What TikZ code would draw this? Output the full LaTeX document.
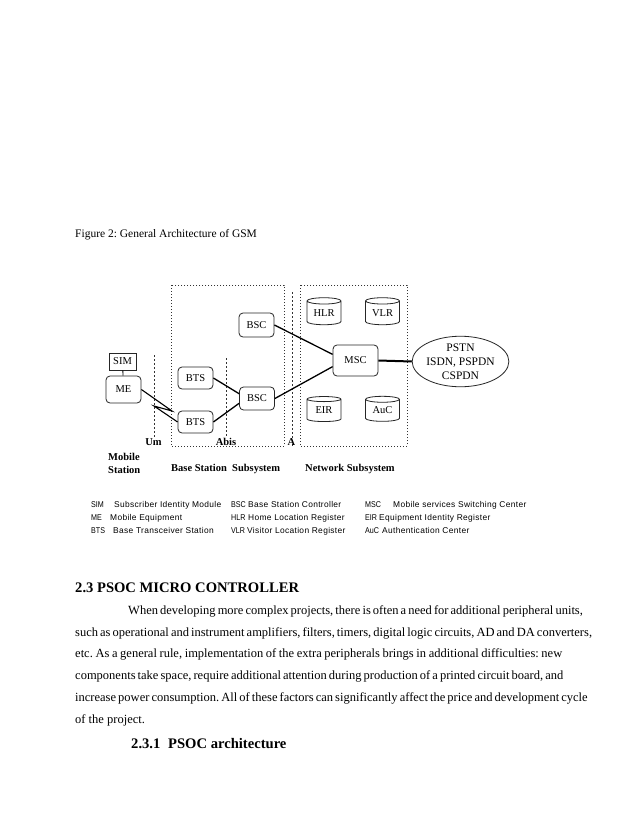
\documentclass[tikz,border=0pt]{standalone}
\usepackage{fontspec}
\setmainfont{Liberation Serif}
\newfontfamily\legendfont[LetterSpace=4]{Liberation Sans}
\newfontfamily\abbrfont[FakeStretch=0.85]{Liberation Sans}
\usetikzlibrary{shapes.geometric}
\frenchspacing
\begin{document}
\begin{tikzpicture}[x=1pt,y=-1pt,
  boxfont/.style={font=\fontsize{10.5}{12}\selectfont},
  rbox/.style={draw=black!85, rounded corners=4pt, line width=0.8pt, inner sep=0pt, boxfont},
  sbox/.style={draw=black!85, line width=0.8pt, inner sep=0pt, boxfont},
  dbase/.style={draw=black!85, cylinder, shape border rotate=90, aspect=0.3, line width=0.8pt, inner sep=0pt, boxfont, minimum width=34pt, minimum height=27pt},
  link/.style={line width=1.3pt},
  zone/.style={draw=black!80, line width=0.9pt, dash pattern=on 0.9pt off 2.1pt},
  iface/.style={draw=black!80, line width=0.9pt, dash pattern=on 2pt off 2pt},
  blabel/.style={font=\fontsize{10.5}{12}\selectfont\bfseries, inner sep=0pt},
  leg/.style={font=\legendfont\fontsize{8.4}{10}\selectfont, anchor=base west, inner sep=0pt},
  abbr/.style={font=\abbrfont\fontsize{8.4}{10}\selectfont, anchor=base west, inner sep=0pt},
  body/.style={font=\fontsize{12.5}{15}\selectfont, anchor=base west, inner sep=0pt},
  head/.style={font=\fontsize{14.6}{17}\selectfont\bfseries, anchor=base west, inner sep=0pt}
]
\useasboundingbox[fill=white] (0,0) rectangle (638,826);

% caption
\node[font=\fontsize{11.5}{13}\selectfont, anchor=base west, inner sep=0pt] (cap) at (75,237) {Figure 2: General Architecture of GSM};

% zones
\draw[zone] (171,285) rectangle (284,446);
\draw[zone] (300,285) rectangle (407,446);
\coordinate (umtop) at (154,355); \coordinate (umbot) at (154,437);
\coordinate (abtop) at (226,358); \coordinate (abbot) at (226,437);
\coordinate (atop) at (292,292); \coordinate (abot) at (292,446);
\draw[iface] (umtop) -- (umbot);
\draw[iface] (abtop) -- (abbot);
\draw[iface] (atop) -- (abot);

% nodes
\node[sbox, minimum width=27pt, minimum height=17pt] (sim) at (122.5,361.5) {SIM};
\node[rbox, minimum width=35pt, minimum height=27pt] (me) at (123.5,389.5) {ME};
\node[rbox, minimum width=35pt, minimum height=22pt] (bts1) at (195.5,378) {BTS};
\node[rbox, minimum width=35pt, minimum height=22pt] (bts2) at (195.5,422) {BTS};
\node[rbox, minimum width=35pt, minimum height=24pt] (bsc1) at (256.5,325) {BSC};
\node[rbox, minimum width=35pt, minimum height=23pt] (bsc2) at (257,398.5) {BSC};
\node[rbox, minimum width=45pt, minimum height=31pt] (msc) at (355.5,360.5) {MSC};
\node[dbase] (hlr) at (324,313) {HLR};
\node[dbase] (vlr) at (382.5,313) {VLR};
\node[dbase, minimum height=25pt] (eir) at (324,410.5) {EIR};
\node[dbase, minimum height=25pt] (auc) at (382.5,410.5) {AuC};
\node[draw=black!85, ellipse, line width=0.8pt, minimum width=85pt, minimum height=47pt, inner sep=0pt, align=center, font=\fontsize{11.5}{14}\selectfont] (net) at (460.5,361.5) {PSTN\\ISDN, PSPDN\\CSPDN};

% connectors
\draw[line width=0.8pt] (sim) -- (me);
\coordinate (z1) at (172,411);
\coordinate (z2) at (154,406);
\draw[line width=1.1pt] (me.east) -- (z1) -- (z2) -- (bts2.west);
\draw[link] (bts1.east) -- (bsc2.165);
\draw[link] (bts2.east) -- (bsc2.195);
\draw[link] (bsc1.east) -- (msc.165);
\draw[link] (bsc2.east) -- (msc.195);
\draw[line width=2pt] (msc.east) -- (net.west);

% interface and zone labels
\node[blabel, anchor=base] (um) at (153.5,445) {Um};
\node[blabel, anchor=base] (abis) at (226,445) {Abis};
\node[blabel, anchor=base] (alab) at (291.5,445) {A};
\node[blabel, anchor=north west, align=left, font=\fontsize{10.5}{13}\selectfont\bfseries] (ms) at (108,453) {Mobile\\Station};
\node[blabel, anchor=base west] (bss) at (171,471) {Base Station\ \ Subsystem};
\node[blabel, anchor=base west] (nss) at (305,471) {Network Subsystem};

% legend
\node[abbr] (l1a) at (91,507) {SIM};  \node[leg] (l1b) at (114,507) {Subscriber Identity Module};
\node[abbr] (l2a) at (91,520) {ME};   \node[leg] (l2b) at (110,520) {Mobile Equipment};
\node[abbr] (l3a) at (91,533) {BTS};  \node[leg] (l3b) at (113,533) {Base Transceiver Station};
\node[abbr] (l4a) at (231,507) {BSC}; \node[leg] (l4b) at (248,507) {Base Station Controller};
\node[abbr] (l5a) at (231,520) {HLR}; \node[leg] (l5b) at (248,520) {Home Location Register};
\node[abbr] (l6a) at (231,533) {VLR}; \node[leg] (l6b) at (247,533) {Visitor Location Register};
\node[abbr] (l7a) at (365,507) {MSC}; \node[leg] (l7b) at (393,507) {Mobile services Switching Center};
\node[abbr] (l8a) at (365,520) {EIR}; \node[leg] (l8b) at (379,520) {Equipment Identity Register};
\node[abbr] (l9a) at (365,533) {AuC}; \node[leg] (l9b) at (382,533) {Authentication Center};

% section text
\node[head] (h1) at (75,592) {2.3 PSOC MICRO CONTROLLER};
\node[body] (p1) at (128,614) {\makebox[434pt][s]{When developing more complex projects, there is often a need for additional peripheral units,}};
\node[body] (p2) at (75,636) {\makebox[487pt][s]{such as operational and instrument amplifiers, filters, timers, digital logic circuits, AD and DA converters,}};
\node[body] (p3) at (75,657.5) {\makebox[487pt][s]{etc. As a general rule, implementation of the extra peripherals brings in additional difficulties: new}};
\node[body] (p4) at (75,679) {\makebox[487pt][s]{components take space, require additional attention during production of a printed circuit board, and}};
\node[body] (p5) at (75,701) {\makebox[487pt][s]{increase power consumption. All of these factors can significantly affect the price and development cycle}};
\node[body] (p6) at (75,723) {of the project.};
\node[head] (h2a) at (131,748) {2.3.1};
\node[head] (h2b) at (168,748) {PSOC architecture};
\end{tikzpicture}
\end{document}
